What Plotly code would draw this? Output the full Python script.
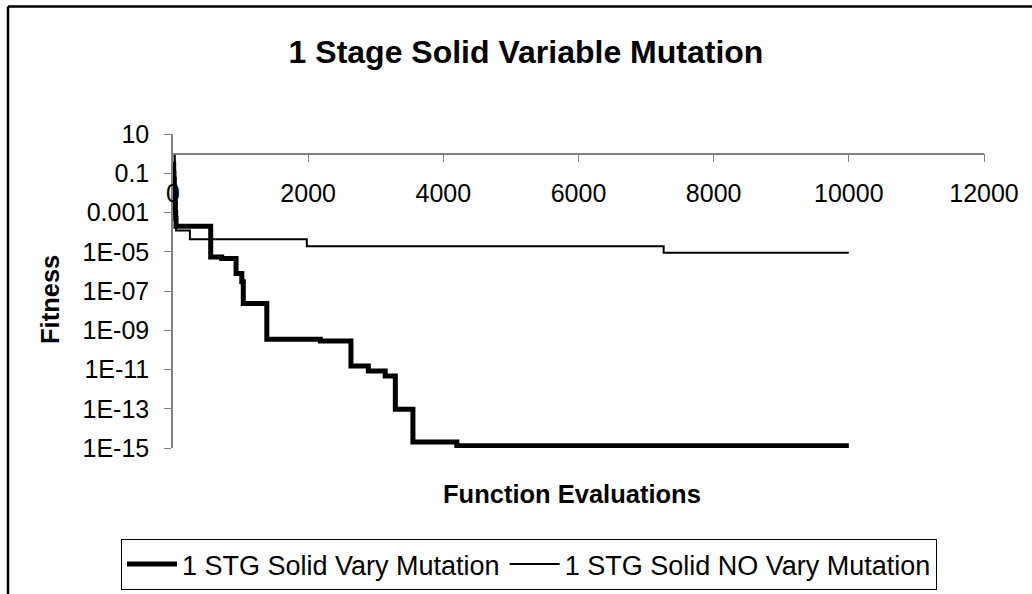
import plotly.graph_objects as go

# Best fitness found vs. number of function evaluations (step traces)
evals_vary = [0, 5, 10, 15, 20, 25, 30, 35, 40, 45, 558, 720, 933, 1018, 1040,
              1388, 2180, 2633, 2890, 3140, 3290, 3550, 4200, 10000]
fitness_vary = [0.7, 0.3, 0.1, 0.05, 0.02, 0.008, 0.003, 0.001, 5e-4, 2e-4,
                5.4e-6, 4.5e-6, 7.7e-7, 3e-7, 2.3e-8,
                3.5e-10, 2.8e-10, 1.5e-11, 8.5e-12, 4.6e-12, 9.5e-14, 2e-15, 1.3e-15, 1.3e-15]

evals_novary = [0, 5, 10, 15, 20, 25, 30, 35, 40, 45, 250, 1980, 7260, 10000]
fitness_novary = [0.5, 0.2, 0.08, 0.03, 0.01, 0.004, 0.0015, 6e-4, 3e-4, 1.2e-4,
                  4.3e-5, 1.9e-5, 9e-6, 9e-6]

x_ticks = [0, 2000, 4000, 6000, 8000, 10000, 12000]
y_tickvals = [10, 0.1, 0.001, 1e-05, 1e-07, 1e-09, 1e-11, 1e-13, 1e-15]
y_ticktext = ["10", "0.1", "0.001", "1E-05", "1E-07", "1E-09", "1E-11", "1E-13", "1E-15"]

FONT = "Liberation Sans, Arial, sans-serif"
W, H = 1032, 594
L, R, T, B = 173, 48, 134, 146
plot_w = W - L - R
plot_h = H - T - B


def px_x(px):
    return (px - L) / plot_w


def px_y(py):
    return (H - B - py) / plot_h


fig = go.Figure()
fig.add_trace(go.Scatter(
    x=evals_vary, y=fitness_vary, mode="lines", line_shape="hv",
    line=dict(color="black", width=5), name="1 STG Solid Vary Mutation"))
fig.add_trace(go.Scatter(
    x=evals_novary, y=fitness_novary, mode="lines", line_shape="hv",
    line=dict(color="black", width=2), name="1 STG Solid NO Vary Mutation"))

fig.update_layout(
    width=W, height=H,
    margin=dict(l=L, r=R, t=T, b=B, autoexpand=False),
    paper_bgcolor="white", plot_bgcolor="white",
    font=dict(family=FONT, color="black"),
    title=dict(text="1 Stage Solid Variable Mutation", x=526 / W, xref="container",
               xanchor="center", y=1 - 52 / H, yref="container", yanchor="middle",
               font=dict(size=32, weight="bold", family=FONT)),
    showlegend=True,
    legend=dict(orientation="h", x=px_x(529), xanchor="center", y=px_y(539), yanchor="top",
                bordercolor="black", borderwidth=1, bgcolor="white",
                font=dict(size=27, family=FONT), itemwidth=50,
                traceorder="normal"),
    xaxis=dict(range=[0, 12000], tickvals=x_ticks, ticktext=[str(v) for v in x_ticks],
               showgrid=False, zeroline=False, showline=True, linecolor="#808080",
               linewidth=1.5, ticks="outside", ticklen=8, tickcolor="#808080",
               tickfont=dict(size=25, family=FONT), anchor="free",
               position=px_y(153.5), side="bottom", ticklabelstandoff=10),
    yaxis=dict(type="log", range=[-15, 1], tickvals=y_tickvals, ticktext=y_ticktext,
               showgrid=False, zeroline=False, showline=True, linecolor="#808080",
               linewidth=1.5, ticks="outside", ticklen=7, tickcolor="#808080",
               tickfont=dict(size=25, family=FONT), ticklabelstandoff=10),
    annotations=[
        dict(text="<b>Fitness</b>", xref="paper", yref="paper", x=px_x(50), y=px_y(300),
             textangle=-90, showarrow=False, font=dict(size=25.5, family=FONT),
             xanchor="center", yanchor="middle"),
        dict(text="<b>Function Evaluations</b>", xref="paper", yref="paper",
             x=px_x(572), y=px_y(494), showarrow=False, font=dict(size=25.5, family=FONT),
             xanchor="center", yanchor="middle"),
    ],
    shapes=[
        # chart frame (left and top edges)
        dict(type="line", xref="paper", yref="paper", x0=px_x(8), x1=px_x(8),
             y0=px_y(H + 10), y1=px_y(6.5), line=dict(color="black", width=2.5)),
        dict(type="line", xref="paper", yref="paper", x0=px_x(8), x1=px_x(W + 10),
             y0=px_y(6.5), y1=px_y(6.5), line=dict(color="black", width=2.5)),
    ],
)

fig.write_html("out.html")
